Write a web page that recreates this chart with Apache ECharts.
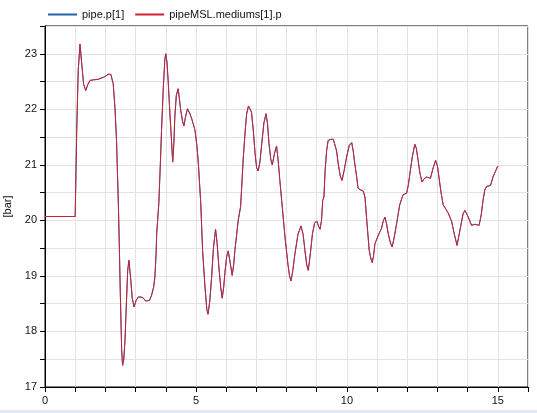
<!DOCTYPE html>
<html>
<head>
<meta charset="utf-8">
<script src="https://cdn.jsdelivr.net/npm/echarts@6/dist/echarts.min.js"></script>
<style>
html,body{margin:0;padding:0;background:#fff;}
#chart{width:537px;height:413px;}
</style>
</head>
<body>
<div id="chart"></div>
<script>
var seriesNames = ['pipe.p[1]', 'pipeMSL.mediums[1].p'];
var xTickLabels = ['0', '5', '10', '15'];

var time = [0, 1.0, 1.05, 1.1, 1.16, 1.22, 1.28, 1.35, 1.42, 1.49, 1.6, 1.76, 1.95, 2.1, 2.18, 2.26, 2.32, 2.37, 2.43, 2.46, 2.49, 2.54, 2.57, 2.61, 2.65, 2.70, 2.74, 2.78, 2.83, 2.89, 2.95, 3.02, 3.09, 3.18, 3.26, 3.33, 3.39, 3.46, 3.53, 3.60, 3.64, 3.68, 3.70, 3.77, 3.82, 3.86, 3.92, 3.97, 4.0, 4.04, 4.08, 4.14, 4.19, 4.23, 4.27, 4.30, 4.35, 4.41, 4.45, 4.49, 4.55, 4.60, 4.66, 4.72, 4.80, 4.86, 4.92, 4.97, 5.03, 5.08, 5.16, 5.22, 5.30, 5.36, 5.40, 5.46, 5.52, 5.58, 5.65, 5.70, 5.76, 5.82, 5.87, 5.92, 5.96, 6.02, 6.07, 6.13, 6.20, 6.25, 6.29, 6.35, 6.40, 6.48, 6.57, 6.63, 6.68, 6.74, 6.79, 6.84, 6.90, 6.96, 7.01, 7.06, 7.12, 7.18, 7.25, 7.32, 7.37, 7.42, 7.48, 7.53, 7.60, 7.67, 7.72, 7.78, 7.84, 7.95, 8.05, 8.10, 8.15, 8.21, 8.28, 8.38, 8.48, 8.55, 8.61, 8.67, 8.72, 8.78, 8.86, 8.93, 9.0, 9.06, 9.11, 9.16, 9.20, 9.24, 9.28, 9.33, 9.38, 9.47, 9.55, 9.60, 9.66, 9.71, 9.78, 9.84, 9.91, 9.99, 10.08, 10.16, 10.21, 10.26, 10.32, 10.37, 10.45, 10.54, 10.60, 10.65, 10.74, 10.80, 10.84, 10.88, 10.93, 11.04, 11.15, 11.20, 11.26, 11.31, 11.37, 11.44, 11.50, 11.57, 11.65, 11.75, 11.86, 11.98, 12.04, 12.09, 12.17, 12.25, 12.30, 12.36, 12.42, 12.49, 12.56, 12.64, 12.77, 12.86, 12.94, 13.0, 13.05, 13.12, 13.19, 13.28, 13.36, 13.47, 13.56, 13.65, 13.72, 13.79, 13.85, 13.91, 13.97, 14.02, 14.13, 14.24, 14.31, 14.38, 14.45, 14.51, 14.57, 14.63, 14.76, 14.84, 14.92, 15.0];

var pressure = [20.07, 20.07, 21.6, 22.7, 23.17, 22.8, 22.45, 22.34, 22.45, 22.52, 22.53, 22.54, 22.58, 22.63, 22.63, 22.46, 22.0, 21.44, 20.3, 19.6, 18.8, 17.66, 17.39, 17.5, 17.84, 18.56, 19.1, 19.28, 19.0, 18.6, 18.44, 18.56, 18.62, 18.62, 18.6, 18.55, 18.53, 18.56, 18.65, 18.8, 18.98, 19.4, 19.76, 20.3, 21.0, 21.62, 22.4, 22.9, 23.0, 22.85, 22.52, 21.9, 21.44, 21.05, 21.4, 21.86, 22.25, 22.37, 22.2, 22.01, 21.8, 21.70, 21.88, 22.01, 21.92, 21.83, 21.72, 21.62, 21.35, 21.03, 20.3, 19.46, 18.80, 18.4, 18.31, 18.55, 18.98, 19.5, 19.84, 19.6, 19.16, 18.8, 18.6, 18.8, 19.06, 19.35, 19.45, 19.25, 19.01, 19.2, 19.46, 19.75, 20.0, 20.25, 21.14, 21.6, 21.92, 22.06, 22.09, 21.95, 21.62, 21.2, 20.95, 20.89, 21.05, 21.38, 21.75, 21.92, 21.75, 21.38, 21.1, 21.0, 21.2, 21.34, 21.1, 20.72, 20.36, 19.70, 19.2, 19.0, 18.91, 19.1, 19.40, 19.75, 19.90, 19.75, 19.46, 19.2, 19.10, 19.35, 19.76, 19.95, 19.99, 19.9, 19.84, 20.0, 20.36, 20.42, 20.9, 21.26, 21.44, 21.46, 21.46, 21.44, 21.25, 21.03, 20.8, 20.72, 20.9, 21.14, 21.35, 21.40, 21.25, 21.03, 20.8, 20.58, 20.55, 20.53, 20.42, 20.06, 19.46, 19.3, 19.24, 19.35, 19.58, 19.73, 19.86, 19.98, 20.06, 19.95, 19.76, 19.6, 19.52, 19.7, 19.95, 20.28, 20.46, 20.49, 20.65, 20.85, 21.15, 21.37, 21.3, 21.08, 20.85, 20.69, 20.75, 20.78, 20.76, 20.95, 21.08, 20.98, 20.78, 20.5, 20.28, 20.2, 20.13, 19.98, 19.75, 19.55, 19.75, 19.95, 20.12, 20.18, 20.12, 20.06, 19.91, 19.93, 19.92, 19.91, 20.1, 20.36, 20.55, 20.61, 20.63, 20.78, 20.88, 20.98];

var pipeP = pressure;
var pipeMslP = pressure;

function pairs(xs, ys) {
  var out = [];
  for (var i = 0; i < xs.length; i++) out.push([xs[i], ys[i]]);
  return out;
}

var chart = echarts.init(document.getElementById('chart'), null, {renderer: 'canvas'});
var font = 'Liberation Sans, Arial, sans-serif';
chart.setOption({
  animation: false,
  backgroundColor: '#ffffff',
  textStyle: {fontFamily: font},
  legend: {
    left: 43, top: 4,
    itemWidth: 29, itemHeight: 2, itemGap: 11,
    icon: 'rect',
    textStyle: {fontSize: 11, color: '#111', fontFamily: font},
    data: seriesNames
  },
  grid: {
    left: 45, right: 9, top: 26, bottom: 26,
    show: true, borderColor: '#000', borderWidth: 1, backgroundColor: 'transparent',
    containLabel: false,
    outerBoundsMode: 'none'
  },
  xAxis: {
    type: 'value', min: 0, max: 16, interval: 1,
    axisLine: {show: true, onZero: false, lineStyle: {color: '#000', width: 1}},
    axisTick: {show: true, length: 5, lineStyle: {color: '#000'}},
    axisLabel: {
      fontSize: 11, color: '#111', margin: 8, fontFamily: font,
      formatter: function (v) {
        var s = String(v);
        return xTickLabels.indexOf(s) >= 0 ? s : '';
      }
    },
    splitLine: {show: true, lineStyle: {color: '#e3e3e3', width: 1}}
  },
  yAxis: {
    type: 'value', min: 17, max: 23.5, interval: 0.5,
    name: '[bar]', nameLocation: 'middle', nameGap: 27, nameRotate: 90,
    nameTextStyle: {fontSize: 11, color: '#111', fontFamily: font},
    axisLine: {show: true, lineStyle: {color: '#000', width: 1}},
    axisTick: {show: true, length: 5, lineStyle: {color: '#000'}},
    axisLabel: {
      fontSize: 11, color: '#111', margin: 8, fontFamily: font,
      formatter: function (v) { return (Math.abs(v - Math.round(v)) < 1e-6) ? String(Math.round(v)) : ''; }
    },
    splitLine: {show: true, lineStyle: {color: '#e3e3e3', width: 1}}
  },
  graphic: [{
    type: 'rect', left: 0, top: 410, shape: {width: 537, height: 3},
    style: {fill: '#dfe8f4'}, silent: true
  }],
  series: [
    {
      name: seriesNames[0], type: 'line', data: pairs(time, pipeP),
      showSymbol: false, symbol: 'none', color: '#2060a8',
      lineStyle: {width: 1, color: '#2060a8'}
    },
    {
      name: seriesNames[1], type: 'line', data: pairs(time, pipeMslP),
      showSymbol: false, symbol: 'none', color: '#cc2233',
      lineStyle: {width: 1, color: '#cc2233'}
    }
  ]
});
</script>
</body>
</html>
